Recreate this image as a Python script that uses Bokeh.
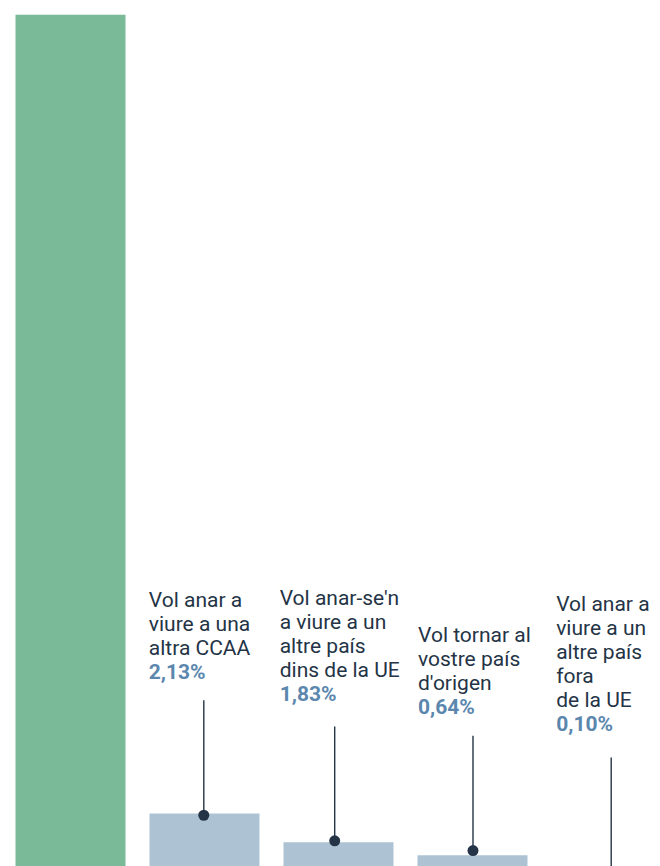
from bokeh.plotting import figure
from bokeh.models import ColumnDataSource, Range1d
from bokeh.core.properties import value
from bokeh.embed import file_html
from bokeh.resources import INLINE

# ---------------- data ----------------
categories = ["Es queda", "Altra CCAA", "Altre país UE", "País d'origen", "Altre país fora UE"]
# height of each bar as drawn, in % (the green bar runs past the top of the view)
bar_height = [95.30, 2.13, 0.97, 0.45, 0.0]
pct_labels = ["2,13%", "1,83%", "0,64%", "0,10%"]
label_texts = [
    "Vol anar a\nviure a una\naltra CCAA",
    "Vol anar-se'n\na viure a un\naltre país\ndins de la UE",
    "Vol tornar al\nvostre país\nd'origen",
    "Vol anar a\nviure a un\naltre país\nfora\nde la UE",
]
dot_level = [2.06, 1.03, 0.64, -0.30]     # marker on each leader line (%)
leader_top = [6.68, 5.63, 5.25, 4.38]     # top end of each leader line (%)

# ---------------- layout / style ----------------
W, H = 660, 866
TOP_BORDER = 14
FRAME_H = H - TOP_BORDER
PX_PER_PCT = 53 / 2.13
PITCH = 134.0
BAR_W = 110.0
GREEN_CENTER_PX = 70.0          # from frame left edge
LINE_H = 24.0
TEXT_SHIFT = 8.0                # px correction for the renderer's baseline
annot_dx = [-0.7, -3.8, 0.5, 4.7]      # px nudges of each annotation group
label_gap = [20.7, 24.5, 20.8, 25.2]   # px between % baseline and leader top

GREEN = "#7aba98"
BLUE = "#adc3d4"
DARK = "#243446"
PCT = "#5b87ae"
FONT = "Roboto"

p = figure(width=W, height=H, output_backend="svg", toolbar_location=None,
           x_range=Range1d(-GREEN_CENTER_PX / PITCH, (W - GREEN_CENTER_PX) / PITCH),
           y_range=Range1d(0, FRAME_H / PX_PER_PCT),
           min_border_top=TOP_BORDER, min_border_left=0, min_border_right=0, min_border_bottom=0,
           x_axis_location=None, y_axis_location=None)
p.grid.visible = False
p.outline_line_color = None
p.background_fill_color = "white"
p.border_fill_color = "white"

xs = list(range(len(categories)))
bar_src = ColumnDataSource(dict(x=xs, top=bar_height, cat=categories,
                                color=[GREEN] + [BLUE] * (len(categories) - 1)))
p.vbar(x="x", top="top", bottom=0, width=BAR_W / PITCH, fill_color="color",
       line_color=None, source=bar_src)

cx = [i + 1 + d / PITCH for i, d in enumerate(annot_dx)]
p.segment(x0=cx, y0=dot_level, x1=cx, y1=leader_top, line_color=DARK, line_width=1.4)
p.scatter(x=cx, y=dot_level, size=11, fill_color=DARK, line_color=None)

tx, ty, tt = [], [], []
px_, py_, pt_ = [], [], []
for i, (txt, pct, top, d, gap) in enumerate(zip(label_texts, pct_labels, leader_top, annot_dx, label_gap)):
    left = i + 1 - (BAR_W / 2) / PITCH + d / PITCH
    pct_y = top + (gap + TEXT_SHIFT) / PX_PER_PCT
    lines = txt.split("\n")
    n = len(lines)
    for j, line in enumerate(lines):
        tx.append(left)
        ty.append(pct_y + (n - j) * LINE_H / PX_PER_PCT)
        tt.append(line)
    px_.append(left)
    py_.append(pct_y)
    pt_.append(pct)

p.text(x=tx, y=ty, text=tt, text_font=value(FONT), text_font_size="21px",
       text_color=DARK, text_baseline="alphabetic", text_align="left")
p.text(x=px_, y=py_, text=pt_, text_font=value(FONT), text_font_size="21px",
       text_font_style="bold", text_color=PCT, text_baseline="alphabetic", text_align="left")

open("out.html", "w").write(file_html(p, INLINE))
